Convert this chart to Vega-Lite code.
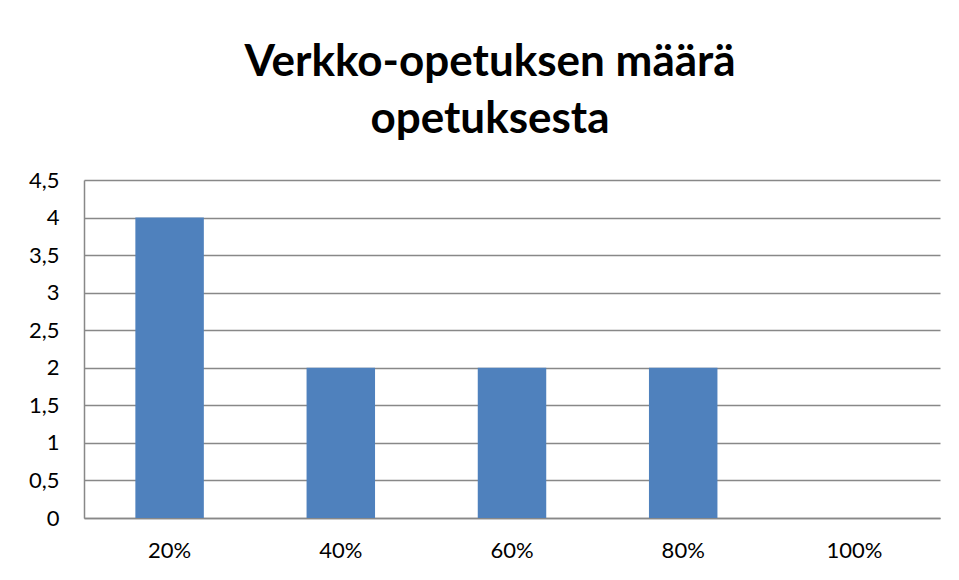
{
  "$schema": "https://vega.github.io/schema/vega-lite/v6.json",
  "width": 856,
  "height": 338,
  "autosize": {"type": "none"},
  "padding": {"left": 84, "top": 180, "right": 19, "bottom": 62},
  "background": "white",
  "title": {
    "text": ["Verkko-opetuksen määrä", "opetuksesta"],
    "font": "Lato",
    "fontSize": 44,
    "fontWeight": "bold",
    "color": "black",
    "lineHeight": 57,
    "anchor": "middle",
    "dx": -22,
    "offset": 27
  },
  "data": {
    "values": [
      {"category": "20%", "value": 4},
      {"category": "40%", "value": 2},
      {"category": "60%", "value": 2},
      {"category": "80%", "value": 2},
      {"category": "100%", "value": 0}
    ]
  },
  "mark": {"type": "bar", "color": "#4F81BD"},
  "encoding": {
    "x": {
      "field": "category",
      "type": "nominal",
      "sort": null,
      "scale": {"paddingInner": 0.6, "paddingOuter": 0.3},
      "axis": {
        "title": null,
        "labelAngle": 0,
        "labelFont": "Lato",
        "labelFontSize": 22,
        "labelColor": "black",
        "labelPadding": 22,
        "ticks": false,
        "domainColor": "#888888",
        "domainWidth": 1.5
      }
    },
    "y": {
      "field": "value",
      "type": "quantitative",
      "scale": {"domain": [0, 4.5], "nice": false},
      "axis": {
        "title": null,
        "values": [0, 0.5, 1, 1.5, 2, 2.5, 3, 3.5, 4, 4.5],
        "labelExpr": "replace(toString(datum.value), '.', ',')",
        "labelFont": "Lato",
        "labelFontSize": 22,
        "labelColor": "black",
        "labelPadding": 25,
        "ticks": false,
        "grid": true,
        "gridColor": "#888888",
        "gridWidth": 1.5,
        "domainColor": "#888888",
        "domainWidth": 1.5
      }
    }
  },
  "config": {"view": {"stroke": null}}
}
